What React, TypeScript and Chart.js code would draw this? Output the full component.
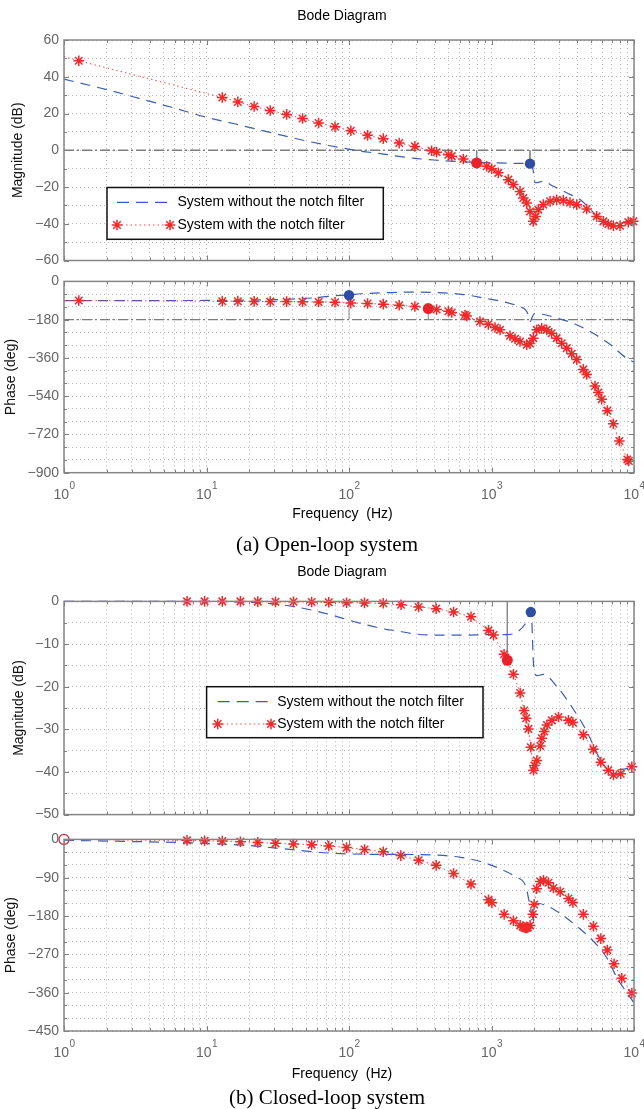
import React, { useEffect, useRef } from 'react';
import { Chart, registerables } from 'chart.js';

Chart.register(...registerables);

const SANS = '"Liberation Sans", Arial, Helvetica, sans-serif';
const SERIF = '"Liberation Serif", "Times New Roman", Times, serif';

// ---------- axes ----------
const freqGrid = [1, 2, 3, 4, 5, 6, 7, 8, 9, 10, 20, 30, 40, 50, 60, 70, 80, 90, 100, 200, 300, 400, 500, 600, 700, 800, 900, 1000, 2000, 3000, 4000, 5000, 6000, 7000, 8000, 9000, 10000];
const freqLabelValues = [1, 10, 100, 1000, 10000];
const freqLabelExponents = ['0', '1', '2', '3', '4'];

const olMagTicks = [60, 50, 40, 30, 20, 10, 0, -10, -20, -30, -40, -50, -60];
const olMagLabels = [60, 40, 20, 0, -20, -40, -60];
const olPhaseTicks = [0, -60, -120, -180, -240, -300, -360, -420, -480, -540, -600, -660, -720, -780, -840, -900];
const olPhaseLabels = [0, -180, -360, -540, -720, -900];
const clMagTicks = [0, -5, -10, -15, -20, -25, -30, -35, -40, -45, -50];
const clMagLabels = [0, -10, -20, -30, -40, -50];
const clPhaseTicks = [0, -30, -60, -90, -120, -150, -180, -210, -240, -270, -300, -330, -360, -390, -420, -450];
const clPhaseLabels = [0, -90, -180, -270, -360, -450];

const seriesNames = ['System without the notch filter', 'System with the notch filter'];

// ---------- (a) open-loop magnitude ----------
const olMagBlueF = [1, 2.01, 3.2, 5.8, 9.9, 15.7, 30.5, 48.5, 72, 100.7, 123, 166, 209, 282, 398, 631, 1000, 1413, 1862, 1950, 2023, 2138, 2317, 2692, 3034, 3548, 4188, 4786, 5483, 6310, 7178, 8318, 10000];
const olMagBlueDb = [38.7, 32.9, 28.7, 23.2, 18.0, 14.4, 9.0, 5.3, 2.6, 0.5, -0.6, -1.8, -3.0, -4.3, -5.3, -6.3, -6.8, -7.1, -7.3, -10, -17.7, -17.5, -16.8, -19.5, -21.4, -24, -26.8, -31, -35.8, -39, -40.3, -39.5, -37.6];
const olMagRedF = [1, 1.27, 12.9, 16.6, 21.6, 28.0, 36.5, 47.2, 61.2, 79.8, 103, 135, 174, 225, 290, 380, 412, 498, 526, 634, 787, 925, 1003, 1116, 1312, 1422, 1585, 1672, 1766, 1862, 1963, 2040, 2130, 2310, 2575, 2866, 3190, 3554, 3963, 4656, 5470, 6095, 6600, 7160, 7980, 9120, 9890];
const olMagRedDb = [51, 48.7, 28.7, 26.3, 23.8, 21.6, 19.5, 17.3, 14.8, 12.8, 10.6, 8.1, 6.3, 3.9, 2.1, -0.3, -1.1, -2.4, -3.2, -4.8, -6.9, -8.7, -10.1, -12.3, -16.0, -18.7, -22.4, -26.0, -28.7, -33.3, -38.7, -36, -32.3, -29.6, -27.8, -26.9, -27.3, -28.4, -29.6, -32, -36, -38.7, -40.3, -41.1, -41.1, -39.1, -38.7];

// ---------- (a) open-loop phase ----------
const olPhBlueF = [1, 5, 15, 25, 37, 55, 72, 100, 123, 185, 280, 415, 637, 880, 1213, 1590, 1740, 1830, 1875, 1930, 2000, 2380, 2900, 3760, 4920, 6700, 8900, 10000];
const olPhBlueDeg = [-90, -90, -89, -87, -84, -78, -70, -63, -58, -53, -50, -53, -62, -78, -96, -120, -135, -165, -188, -168, -152, -157, -174, -197, -236, -293, -362, -380];
const olPhRedF = [1, 1.27, 12.9, 16.6, 21.6, 28, 36.5, 47.2, 61.2, 79.8, 103, 135, 174, 225, 290, 412, 498, 526, 652, 670, 830, 950, 1059, 1148, 1349, 1462, 1585, 1766, 1862, 1965, 2075, 2250, 2440, 2645, 2866, 3110, 3373, 3656, 3963, 4410, 4660, 5320, 5620, 5935, 6500, 7160, 7890, 8980, 9200];
const olPhRedDeg = [-90, -90, -93, -93, -94, -95, -95, -96, -97, -98, -102, -104, -107, -112, -118, -132, -140, -146, -158, -163, -189, -202, -217, -228, -256, -270, -283, -298, -292, -267, -228, -221, -228, -244, -267, -291, -314, -340, -368, -414, -438, -492, -523, -554, -608, -670, -751, -838, -845];

// ---------- (b) closed-loop magnitude ----------
const clMagBlueF = [1, 10, 19, 25, 32.6, 42.5, 72, 100, 140, 185, 209, 284, 414, 637, 980, 1282, 1507, 1722, 1888, 1920, 1972, 2080, 2317, 2877, 3758, 4667, 5780, 6790, 8890, 10000];
const clMagBlueDb = [0, 0, -0.2, -0.4, -0.75, -1.3, -3.0, -4.4, -5.7, -6.6, -6.8, -7.6, -7.9, -7.9, -7.8, -7.8, -7.2, -5.3, -2.5, -4.9, -14.7, -17.4, -17.1, -20, -25.3, -30.5, -37, -39.6, -39.2, -38.8];
const clMagRedF = [1, 7.3, 9.7, 12.9, 17.3, 22.9, 30.5, 40.8, 54.7, 72.1, 96.2, 128.5, 174, 232, 308, 409, 542, 718, 953, 1033, 1225, 1426, 1589, 1694, 1750, 1815, 1888, 1972, 2000, 2080, 2200, 2255, 2345, 2450, 2655, 2951, 3467, 3724, 4413, 5190, 5850, 6600, 7180, 8070, 9660];
const clMagRedDb = [0, 0, 0, 0, 0, -0.05, -0.1, -0.1, -0.15, -0.2, -0.3, -0.35, -0.45, -0.8, -1.3, -1.7, -2.5, -3.6, -6.8, -7.9, -12.4, -17.1, -21.5, -25.6, -27.4, -29.9, -34.2, -39.6, -38.5, -37.3, -33.9, -32.1, -30.5, -29, -27.9, -27.1, -27.9, -28.4, -31.3, -34.7, -37.7, -39.6, -40.7, -40.4, -38.8];

// ---------- (b) closed-loop phase ----------
const clPhBlueF = [1, 2.6, 7, 19, 37, 72, 140, 284, 414, 603, 834, 1151, 1507, 1680, 1770, 1820, 1920, 1965, 1990, 2080, 2450, 3034, 3970, 5190, 6440, 7570, 9900];
const clPhBlueDeg = [-2, -4.6, -7.7, -14, -23, -32, -35, -35.5, -37, -42, -52, -69, -89, -100, -119, -139, -177, -197, -160, -150, -156, -174, -204, -239, -278, -324, -382];
const clPhRedF = [1, 7.3, 9.7, 12.9, 17.3, 22.9, 30.5, 40.8, 54.7, 72.1, 96.2, 128.5, 174, 231, 308, 409, 542, 718, 953, 1007, 1227, 1426, 1589, 1650, 1694, 1730, 1770, 1800, 1866, 1950, 1990, 2075, 2200, 2317, 2510, 2720, 3034, 3467, 3724, 4413, 5190, 5850, 6500, 7244, 8200, 9660];
const clPhRedDeg = [0, -2.3, -3, -3.9, -5.4, -7, -9.3, -10.8, -12.3, -15.4, -19.3, -23.9, -29, -38, -49, -61, -80, -105, -142, -149, -176, -191, -202, -205, -207, -208, -208, -207, -202, -176, -153, -116, -99, -96, -102, -114, -123, -139, -148, -176, -204, -233, -260, -292, -326, -361];

// ---------- margin markers ----------
const olMagDotF = [787, 1862];
const olMagDotDb = [-6.9, -7.3];
const olPhDotF = [100, 360];
const olPhDotDeg = [-65, -128];
const clMagDotF = [1291, 1888];
const clMagDotDb = [-13.8, -2.5];

// ---------- styles ----------
const BLUE = '#3a5db4';
const BLUE_DOT = '#2d4ea3';
const RED = '#f02a2a';
const RED_DOT = '#e8222a';
const GRID = '#b9b9b9';
const TICK_TEXT = '#666666';
const BOX = '#858585';

interface Dot { f: number; v: number; color: string; r: number; from?: number }
interface LegendBox { left: number; top: number; right: number; bottom: number; textX: number; y1: number; y2: number; sx1: number; sx2: number }
interface PanelCfg {
  id: string;
  canvasTop: number; canvasHeight: number;
  areaTop: number; areaBottom: number;
  yMin: number; yMax: number; yTicks: number[]; yLabels: number[];
  yTitle: string; yTitlePad: number;
  blueF: number[]; blueV: number[];
  redF: number[]; redV: number[];
  refLine?: number;
  dots: Dot[];
  openCircle?: { f: number; v: number };
  showFreqLabels: boolean;
  legend?: LegendBox;
}

const panels: PanelCfg[] = [
  {
    id: 'olmag', canvasTop: 0, canvasHeight: 275, areaTop: 40, areaBottom: 260.5,
    yMin: -60, yMax: 60, yTicks: olMagTicks, yLabels: olMagLabels,
    yTitle: 'Magnitude (dB)', yTitlePad: 10,
    blueF: olMagBlueF, blueV: olMagBlueDb, redF: olMagRedF, redV: olMagRedDb,
    refLine: 0,
    dots: [
      { f: olMagDotF[0], v: olMagDotDb[0], color: RED_DOT, r: 5.5, from: 0 },
      { f: olMagDotF[1], v: olMagDotDb[1], color: BLUE_DOT, r: 5.2, from: 0 },
    ],
    showFreqLabels: false,
    legend: { left: 107, top: 187.5, right: 383.3, bottom: 239.3, textX: 177.4, y1: 202.3, y2: 225, sx1: 117, sx2: 170 },
  },
  {
    id: 'olph', canvasTop: 268, canvasHeight: 242, areaTop: 278.5, areaBottom: 472.7,
    yMin: -900, yMax: 0, yTicks: olPhaseTicks, yLabels: olPhaseLabels,
    yTitle: 'Phase (deg)', yTitlePad: 3,
    blueF: olPhBlueF, blueV: olPhBlueDeg, redF: olPhRedF, redV: olPhRedDeg,
    refLine: -180,
    dots: [
      { f: olPhDotF[0], v: olPhDotDeg[0], color: BLUE_DOT, r: 5.2, from: -180 },
      { f: olPhDotF[1], v: olPhDotDeg[1], color: RED_DOT, r: 5.5, from: -180 },
    ],
    showFreqLabels: true,
  },
  {
    id: 'clmag', canvasTop: 588, canvasHeight: 240, areaTop: 598.3, areaBottom: 819.3,
    yMin: -50, yMax: 0, yTicks: clMagTicks, yLabels: clMagLabels,
    yTitle: 'Magnitude (dB)', yTitlePad: 10.5,
    blueF: clMagBlueF, blueV: clMagBlueDb, redF: clMagRedF, redV: clMagRedDb,
    dots: [
      { f: clMagDotF[0], v: clMagDotDb[0], color: RED_DOT, r: 5.5, from: 0 },
      { f: clMagDotF[1], v: clMagDotDb[1], color: BLUE_DOT, r: 5.2 },
    ],
    showFreqLabels: false,
    legend: { left: 206.6, top: 686.7, right: 483, bottom: 737.7, textX: 277.2, y1: 701.7, y2: 724, sx1: 217.7, sx2: 271 },
  },
  {
    id: 'clph', canvasTop: 826, canvasHeight: 235, areaTop: 836.6, areaBottom: 1031,
    yMin: -450, yMax: 0, yTicks: clPhaseTicks, yLabels: clPhaseLabels,
    yTitle: 'Phase (deg)', yTitlePad: 3,
    blueF: clPhBlueF, blueV: clPhBlueDeg, redF: clPhRedF, redV: clPhRedDeg,
    dots: [],
    openCircle: { f: 1, v: 0 },
    showFreqLabels: true,
  },
];

const fmt = (v: number) => (v < 0 ? '\u2212' + Math.abs(v) : String(v));

function drawStar(ctx: CanvasRenderingContext2D, x: number, y: number, r: number) {
  ctx.beginPath();
  for (let k = 0; k < 4; k++) {
    const a = (k * Math.PI) / 4;
    const dx = Math.cos(a) * r;
    const dy = Math.sin(a) * r;
    ctx.moveTo(x - dx, y - dy);
    ctx.lineTo(x + dx, y + dy);
  }
  ctx.stroke();
}

function buildConfig(cfg: PanelCfg): any {
  const datasets: any[] = [];
  cfg.dots.forEach((d) => {
    datasets.push({
      data: [{ x: d.f, y: d.v }], showLine: false, pointRadius: d.r, pointStyle: 'circle',
      pointBackgroundColor: d.color, pointBorderColor: d.color, pointBorderWidth: 0, order: 0, clip: false,
    });
    if (d.from !== undefined) {
      datasets.push({
        data: [{ x: d.f, y: d.from }, { x: d.f, y: d.v }], borderColor: '#8a8a8a', borderWidth: 1,
        pointRadius: 0, order: 3, clip: false,
      });
    }
  });
  if (cfg.openCircle) {
    datasets.push({
      data: [{ x: cfg.openCircle.f, y: cfg.openCircle.v }], showLine: false, pointRadius: 5, pointStyle: 'circle',
      pointBackgroundColor: 'rgba(0,0,0,0)', pointBorderColor: '#d8283a', pointBorderWidth: 1.3, order: 0, clip: false,
    });
  }
  datasets.push({
    label: seriesNames[1],
    data: cfg.redF.map((f, i) => ({ x: f, y: cfg.redV[i] })),
    borderColor: 'rgba(240,50,50,0.9)', borderWidth: 1, borderDash: [1.5, 3],
    pointStyle: 'star', pointRadius: (c: any) => (c.dataIndex === 0 ? 0 : 5.3),
    pointBorderColor: RED, pointBorderWidth: 1.5, pointBackgroundColor: RED,
    order: 1, clip: false,
  });
  datasets.push({
    label: seriesNames[0],
    data: cfg.blueF.map((f, i) => ({ x: f, y: cfg.blueV[i] })),
    borderColor: BLUE, borderWidth: 1.2, borderDash: [10, 7], pointRadius: 0,
    cubicInterpolationMode: 'monotone', order: 2, clip: false,
  });
  if (cfg.refLine !== undefined) {
    datasets.push({
      data: [{ x: 1, y: cfg.refLine }, { x: 10000, y: cfg.refLine }], borderColor: '#7c7c7c', borderWidth: 1.3,
      borderDash: [10, 3, 2, 3], pointRadius: 0, order: 4,
    });
  }

  const relTop = cfg.areaTop - cfg.canvasTop;
  const relBottom = cfg.areaBottom - cfg.canvasTop;
  const xHeight = cfg.canvasHeight - relBottom;

  const extras = {
    id: 'bodeExtras_' + cfg.id,
    afterDraw(chart: any) {
      const ctx: CanvasRenderingContext2D = chart.ctx;
      const a = chart.chartArea;
      const xs = chart.scales.x;
      const ys = chart.scales.y;
      ctx.save();
      ctx.setLineDash([]);
      ctx.strokeStyle = '#808080';
      ctx.lineWidth = 1;
      ctx.beginPath();
      freqGrid.forEach((v) => {
        const px = Math.round(xs.getPixelForValue(v)) + 0.5;
        const len = freqLabelValues.includes(v) ? 5 : 3;
        ctx.moveTo(px, a.bottom); ctx.lineTo(px, a.bottom - len);
        ctx.moveTo(px, a.top); ctx.lineTo(px, a.top + len);
      });
      cfg.yTicks.forEach((v) => {
        const py = Math.round(ys.getPixelForValue(v)) + 0.5;
        const len = cfg.yLabels.includes(v) ? 5 : 3;
        ctx.moveTo(a.left, py); ctx.lineTo(a.left + len, py);
        ctx.moveTo(a.right, py); ctx.lineTo(a.right - len, py);
      });
      ctx.stroke();
      // box
      ctx.strokeStyle = BOX;
      ctx.lineWidth = 1.5;
      ctx.strokeRect(a.left, a.top, a.right - a.left, a.bottom - a.top);

      // frequency tick labels with exponent
      if (cfg.showFreqLabels) {
        ctx.fillStyle = TICK_TEXT;
        ctx.textBaseline = 'middle';
        ctx.textAlign = 'left';
        const y = a.bottom + 22;
        freqLabelValues.forEach((v, i) => {
          const px = xs.getPixelForValue(v);
          ctx.font = `14px ${SANS}`;
          const w1 = ctx.measureText('10').width;
          ctx.font = `10px ${SANS}`;
          const w2 = ctx.measureText(freqLabelExponents[i]).width;
          const x0 = px - (w1 + w2) / 2;
          ctx.font = `14px ${SANS}`;
          ctx.fillText('10', x0, y);
          ctx.font = `10px ${SANS}`;
          ctx.fillText(freqLabelExponents[i], x0 + w1 + 0.5, y - 8.5);
        });
      }

      // legend
      if (cfg.legend) {
        const L = cfg.legend;
        const off = cfg.canvasTop;
        ctx.fillStyle = '#ffffff';
        ctx.fillRect(L.left, L.top - off, L.right - L.left, L.bottom - L.top);
        ctx.strokeStyle = '#111111';
        ctx.lineWidth = 1.5;
        ctx.strokeRect(L.left, L.top - off, L.right - L.left, L.bottom - L.top);
        // blue dashed sample
        ctx.strokeStyle = BLUE;
        ctx.lineWidth = 1.3;
        ctx.setLineDash([12, 7]);
        ctx.beginPath();
        ctx.moveTo(L.sx1, L.y1 - off); ctx.lineTo(L.sx2, L.y1 - off);
        ctx.stroke();
        // red dotted sample
        ctx.strokeStyle = 'rgba(240,50,50,0.9)';
        ctx.lineWidth = 1;
        ctx.setLineDash([1.5, 3]);
        ctx.beginPath();
        ctx.moveTo(L.sx1, L.y2 - off); ctx.lineTo(L.sx2, L.y2 - off);
        ctx.stroke();
        ctx.setLineDash([]);
        ctx.strokeStyle = RED;
        ctx.lineWidth = 1.5;
        drawStar(ctx, L.sx1, L.y2 - off, 5.3);
        drawStar(ctx, L.sx2, L.y2 - off, 5.3);
        ctx.fillStyle = '#000000';
        ctx.font = `14px ${SANS}`;
        ctx.textAlign = 'left';
        ctx.textBaseline = 'middle';
        ctx.fillText(seriesNames[0], L.textX, L.y1 - off);
        ctx.fillText(seriesNames[1], L.textX, L.y2 - off);
      }
      ctx.restore();
    },
  };

  return {
    type: 'line',
    data: { datasets },
    options: {
      animation: false,
      responsive: false,
      maintainAspectRatio: false,
      devicePixelRatio: 1,
      events: [],
      layout: { padding: { top: relTop, right: 10, left: 0, bottom: 0 } },
      plugins: { legend: { display: false }, tooltip: { enabled: false }, title: { display: false } },
      scales: {
        x: {
          type: 'logarithmic', min: 1, max: 10000,
          afterBuildTicks: (s: any) => { s.ticks = freqGrid.map((v) => ({ value: v })); },
          afterFit: (s: any) => { s.height = xHeight; },
          ticks: { display: false },
          grid: { color: GRID, lineWidth: 1, drawTicks: false },
          border: { display: false, dash: [1, 3] },
        },
        y: {
          type: 'linear', min: cfg.yMin, max: cfg.yMax,
          afterBuildTicks: (s: any) => { s.ticks = cfg.yTicks.map((v) => ({ value: v })); },
          afterFit: (s: any) => { s.width = 64; },
          ticks: {
            autoSkip: false, padding: 5, color: TICK_TEXT,
            font: { family: SANS, size: 14 },
            callback: (v: any) => (cfg.yLabels.includes(Number(v)) ? fmt(Number(v)) : ''),
          },
          grid: { color: GRID, lineWidth: 1, drawTicks: false },
          border: { display: false, dash: [1, 3] },
          title: {
            display: true, text: cfg.yTitle, color: '#111111',
            font: { family: SANS, size: 14 }, padding: { top: cfg.yTitlePad, bottom: 0 },
          },
        },
      },
    },
    plugins: [extras],
  };
}

function BodePanel({ cfg }: { cfg: PanelCfg }) {
  const ref = useRef<HTMLCanvasElement>(null);
  useEffect(() => {
    const canvas = ref.current;
    if (!canvas) return;
    const chart = new Chart(canvas, buildConfig(cfg));
    return () => chart.destroy();
  }, [cfg]);
  return (
    <canvas
      ref={ref}
      width={644}
      height={cfg.canvasHeight}
      style={{ position: 'absolute', left: 0, top: cfg.canvasTop, width: 644, height: cfg.canvasHeight }}
    />
  );
}

function TextLabel({ cx, cy, text, size, family }: { cx: number; cy: number; text: string; size: number; family: string }) {
  return (
    <div
      style={{
        position: 'absolute', left: cx - 250, width: 500, top: cy - size * 0.6, height: size * 1.2,
        lineHeight: `${size * 1.2}px`, fontSize: size, fontFamily: family, textAlign: 'center',
        whiteSpace: 'pre', color: '#000',
      }}
    >
      {text}
    </div>
  );
}

export default function App() {
  return (
    <div style={{ position: 'absolute', left: 0, top: 0, width: 644, height: 1109, background: '#ffffff', overflow: 'hidden' }}>
      {panels.map((p) => (
        <BodePanel key={p.id} cfg={p} />
      ))}
      <TextLabel cx={342} cy={15} text="Bode Diagram" size={14} family={SANS} />
      <TextLabel cx={342.5} cy={513.5} text="Frequency  (Hz)" size={14} family={SANS} />
      <TextLabel cx={327} cy={545} text="(a) Open-loop system" size={21} family={SERIF} />
      <TextLabel cx={342} cy={571} text="Bode Diagram" size={14} family={SANS} />
      <TextLabel cx={342} cy={1073} text="Frequency  (Hz)" size={14} family={SANS} />
      <TextLabel cx={327} cy={1098} text="(b) Closed-loop system" size={21} family={SERIF} />
    </div>
  );
}
